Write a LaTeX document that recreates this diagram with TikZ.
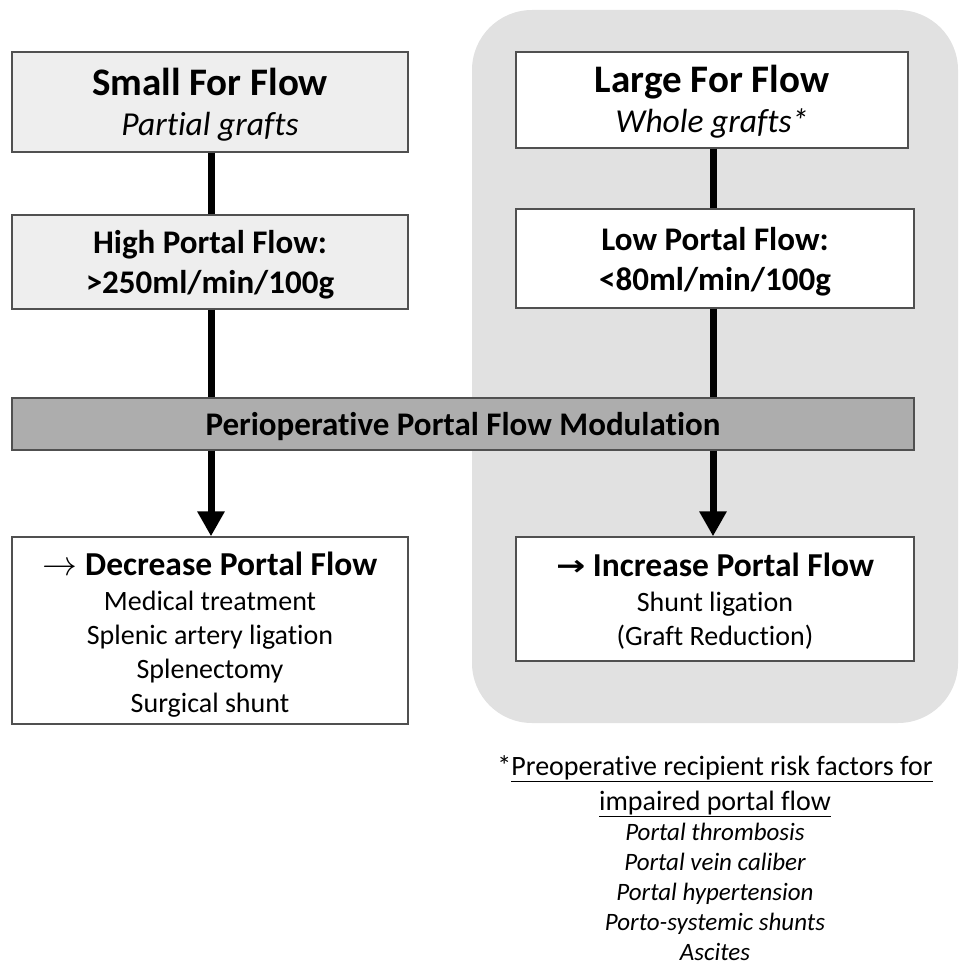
\documentclass[tikz,border=0pt]{standalone}
\usepackage{fontspec}
\setmainfont{Carlito}[Ligatures=NoCommon]
\newfontfamily\dejavu{DejaVu Sans}
\usetikzlibrary{arrows.meta}
\definecolor{bg}{HTML}{E1E1E1}
\definecolor{boxgray}{HTML}{EEEEEE}
\definecolor{bargray}{HTML}{ADADAD}
\definecolor{edge}{HTML}{505050}
\begin{document}
\begin{tikzpicture}[x=1pt,y=-1pt,
  box/.style={draw=edge,line width=1.4pt,inner sep=0pt,align=center},
  link/.style={line width=7pt,black},
  arr/.style={line width=7pt,black,-{Triangle[width=26pt,length=25pt]}},
  titlefont/.style={font=\fontsize{39}{41}\selectfont\bfseries},
  midfont/.style={font=\fontsize{33}{40}\selectfont\bfseries},
  listfont/.style={font=\fontsize{28}{34}\selectfont}]
\useasboundingbox (0,0) rectangle (958,971);
% background panel
\fill[bg, rounded corners=60pt] (472,10) rectangle (958,723);
% top boxes
\node[box, fill=boxgray, minimum width=396pt, minimum height=100pt, titlefont] (lb1) at (210,102)
  {\rule{0pt}{33pt}Small For Flow\\[-1pt]{\fontsize{33.5}{41}\selectfont\mdseries\itshape Partial grafts}};
\node[box, fill=white, minimum width=392pt, minimum height=96pt, titlefont] (rb1) at (712,100)
  {\rule{0pt}{31pt}Large For Flow\\[-1pt]{\fontsize{33.5}{41}\selectfont\mdseries\itshape Whole grafts*}};
% second boxes
\node[box, fill=boxgray, minimum width=396pt, minimum height=94pt, midfont] (lb2) at (210,262)
  {\rule{0pt}{29pt}High Portal Flow:\\ \textgreater250ml/min/100g};
\node[box, fill=white, minimum width=398pt, minimum height=99pt, midfont] (rb2) at (715,258.5)
  {\rule{0pt}{30pt}Low Portal Flow:\\ \textless80ml/min/100g};
% modulation bar
\node[box, fill=bargray, minimum width=902pt, minimum height=52pt, midfont] (mod) at (463,424)
  {\rule{0pt}{29pt}Perioperative Portal Flow Modulation};
% bottom boxes
\node[box, fill=white, minimum width=396pt, minimum height=187pt, listfont] (lb3) at (210,630.5)
  {\rule{0pt}{31pt}{\fontsize{33.5}{36}\selectfont\scalebox{1.4}{$\rightarrow$}\bfseries\ Decrease Portal Flow}\\[1pt]
   Medical treatment\\ Splenic artery ligation\\ Splenectomy\\ Surgical shunt};
\node[box, fill=white, minimum width=398pt, minimum height=124pt, listfont] (rb3) at (715,599)
  {\rule{0pt}{28pt}{\fontsize{33.5}{36}\selectfont\raisebox{1pt}{\scalebox{1.25}[1]{\dejavu\bfseries\fontsize{28}{36}\selectfont →}}\bfseries\ Increase Portal Flow}\\[1pt]
   Shunt ligation\\ (Graft Reduction)};
% connectors
\draw[link] (lb1.south -| 211,0) -- (lb2.north -| 211,0);
\draw[link] (rb1.south -| 713,0) -- (rb2.north -| 713,0);
\draw[link] (lb2.south -| 211,0) -- (mod.north -| 211,0);
\draw[link] (rb2.south -| 713,0) -- (mod.north -| 713,0);
\draw[arr] (mod.south -| 211,0) -- (lb3.north -| 211,0);
\draw[arr] (mod.south -| 713,0) -- (rb3.north -| 713,0);
% footnote
\node[align=center, inner sep=0pt, anchor=north, font=\fontsize{28}{35}\selectfont] (note) at (715,755)
  {*\underline{Preoperative recipient risk factors for}\\
   \underline{impaired portal flow}\\[-5pt]
   {\fontsize{25}{30}\selectfont\itshape Portal thrombosis}\\[-5pt]
   {\fontsize{25}{30}\selectfont\itshape Portal vein caliber}\\[-5pt]
   {\fontsize{25}{30}\selectfont\itshape Portal hypertension}\\[-5pt]
   {\fontsize{25}{30}\selectfont\itshape Porto-systemic shunts}\\[-5pt]
   {\fontsize{25}{30}\selectfont\itshape Ascites}};
\end{tikzpicture}
\end{document}
